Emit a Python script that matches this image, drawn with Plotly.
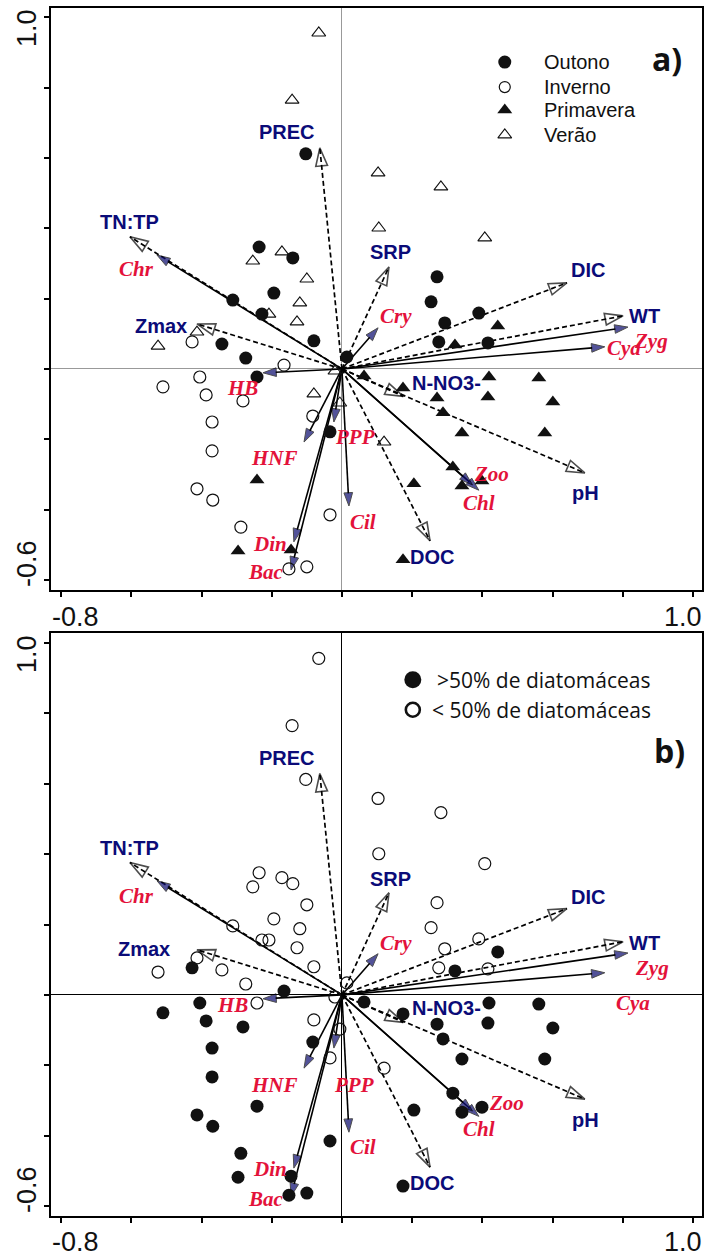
import plotly.graph_objects as go

# ---------------- data (site scores) ----------------
outono_x = [-0.103, -0.236, -0.140, -0.194, -0.311, -0.228, -0.080, -0.342, -0.274, 0.014,
            -0.242, -0.034, 0.271, 0.254, 0.293, 0.390, 0.276, 0.416]
outono_y = [0.612, 0.347, 0.316, 0.216, 0.196, 0.156, 0.080, 0.071, 0.031, 0.034,
            -0.023, -0.179, 0.262, 0.191, 0.131, 0.159, 0.077, 0.074]

inverno_x = [-0.427, -0.165, -0.405, -0.510, -0.387, -0.282, -0.370, -0.083, -0.370, -0.413,
             -0.368, -0.034, -0.288, -0.151, -0.100]
inverno_y = [0.077, 0.011, -0.023, -0.051, -0.074, -0.091, -0.151, -0.134, -0.233, -0.341,
             -0.373, -0.415, -0.450, -0.569, -0.563]

primavera_x = [-0.242, -0.296, -0.145, 0.444, 0.322, 0.063, 0.419, 0.561, 0.174, 0.271,
               0.416, 0.601, 0.288, 0.342, 0.578, 0.316, 0.342, 0.399, 0.205, 0.174]
primavera_y = [-0.316, -0.518, -0.515, 0.122, 0.068, -0.020, -0.023, -0.026, -0.054, -0.083,
               -0.080, -0.094, -0.125, -0.182, -0.182, -0.279, -0.333, -0.319, -0.327, -0.543]

verao_x = [-0.066, -0.142, -0.254, -0.171, -0.100, -0.120, -0.208, -0.128, -0.413, -0.524,
           -0.020, -0.080, -0.006, 0.103, 0.282, 0.105, 0.407, 0.120]
verao_y = [0.956, 0.765, 0.307, 0.333, 0.256, 0.188, 0.156, 0.134, 0.105, 0.065,
           -0.006, -0.071, -0.097, 0.558, 0.518, 0.401, 0.373, -0.208]

# diatom dominance per site (1 = >50%, 0 = <50%), same order: Outono, Inverno, Primavera, Verão
outono_diat = [0, 0, 0, 0, 0, 0, 0, 0, 0, 0, 0, 0, 0, 0, 0, 0, 0, 0]
inverno_diat = [1, 1, 1, 1, 1, 1, 1, 1, 1, 1, 1, 1, 1, 1, 1]
primavera_diat = [1, 1, 1, 1, 1, 1, 1, 1, 1, 1, 1, 1, 1, 1, 1, 1, 1, 1, 1, 1]
verao_diat = [0, 0, 0, 0, 0, 0, 0, 0, 0, 0, 0, 0, 0, 0, 0, 0, 0, 0]

# environmental vectors (dashed)
env_names = ["PREC", "TN:TP", "SRP", "DIC", "WT", "Zmax", "N-NO3-", "pH", "DOC"]
env_x = [-0.063, -0.604, 0.134, 0.641, 0.801, -0.413, 0.175, 0.692, 0.251]
env_y = [0.629, 0.376, 0.290, 0.245, 0.151, 0.128, -0.078, -0.296, -0.489]

# biological vectors (solid)
bio_names = ["Chr", "Cry", "Zyg", "Cya", "HB", "HNF", "PPP", "Din", "Bac", "Cil", "Chl", "Zoo"]
bio_x = [-0.527, 0.103, 0.815, 0.749, -0.225, -0.108, -0.023, -0.137, -0.145, 0.020, 0.390, 0.372]
bio_y = [0.324, 0.117, 0.119, 0.063, -0.011, -0.208, -0.151, -0.492, -0.572, -0.390, -0.345, -0.330]

tick_vals_x = [-0.8, -0.6, -0.4, -0.2, 0.0, 0.2, 0.4, 0.6, 0.8, 1.0]
tick_vals_y = [-0.6, -0.4, -0.2, 0.0, 0.2, 0.4, 0.6, 0.8, 1.0]

# ---------------- label placement (layout) ----------------
env_lab = {
    "a": {"PREC": (-0.157, 0.674), "TN:TP": (-0.604, 0.418), "SRP": (0.137, 0.333),
          "DIC": (0.701, 0.282), "WT": (0.863, 0.151), "Zmax": (-0.516, 0.122),
          "N-NO3-": (0.299, -0.040), "pH": (0.695, -0.353), "DOC": (0.256, -0.535)},
    "b": {"PREC": (-0.157, 0.673), "TN:TP": (-0.604, 0.418), "SRP": (0.137, 0.330),
          "DIC": (0.701, 0.278), "WT": (0.863, 0.148), "Zmax": (-0.564, 0.131),
          "N-NO3-": (0.299, -0.037), "pH": (0.695, -0.355), "DOC": (0.256, -0.534)},
}
bio_lab = {
    "a": {"Chr": (-0.584, 0.285), "Cry": (0.154, 0.151), "Zyg": (0.880, 0.080),
          "Cya": (0.803, 0.060), "HB": (-0.282, -0.054), "HNF": (-0.191, -0.253),
          "PPP": (0.037, -0.193), "Din": (-0.205, -0.498), "Bac": (-0.217, -0.577),
          "Cil": (0.060, -0.435), "Chl": (0.390, -0.381), "Zoo": (0.427, -0.299)},
    "b": {"Chr": (-0.584, 0.281), "Cry": (0.154, 0.148), "Zyg": (0.883, 0.077),
          "Cya": (0.829, -0.023), "HB": (-0.311, -0.028), "HNF": (-0.191, -0.256),
          "PPP": (0.034, -0.256), "Din": (-0.205, -0.494), "Bac": (-0.217, -0.580),
          "Cil": (0.060, -0.432), "Chl": (0.390, -0.381), "Zoo": (0.470, -0.307)},
}

W, H = 704, 1256
NAVY = "#0b0b78"
HEAD = "#0a0a6e"
RED = "#e3123a"
BLK = "#111111"

fig = go.Figure()

panels = [("a", "x", "y"), ("b", "x2", "y2")]

# arrows first
for p, xa, ya in panels:
    for nm, ex, ey in zip(env_names, env_x, env_y):
        fig.add_trace(go.Scatter(
            x=[0, ex], y=[0, ey], mode="lines+markers", xaxis=xa, yaxis=ya,
            line=dict(color="black", width=1.7, dash="5px,3px"),
            marker=dict(symbol="arrow-open", size=[0, 19], angleref="previous",
                        color="black", line=dict(color="black", width=1.6)),
            showlegend=False, hoverinfo="skip"))
    for nm, bx, by in zip(bio_names, bio_x, bio_y):
        fig.add_trace(go.Scatter(
            x=[0, bx], y=[0, by], mode="lines+markers", xaxis=xa, yaxis=ya,
            line=dict(color="black", width=1.6),
            marker=dict(symbol="arrow", size=[0, 14], angleref="previous",
                        color=HEAD, line=dict(color="black", width=1)),
            showlegend=False, hoverinfo="skip"))

# points panel a
season_style = [
    (outono_x, outono_y, "circle", 13, 0),
    (inverno_x, inverno_y, "circle-open", 12, 1.2),
    (primavera_x, primavera_y, "triangle-up", 13, 0),
    (verao_x, verao_y, "triangle-up-open", 12, 1.1),
]
for sx, sy, sym, sz, lw in season_style:
    fig.add_trace(go.Scatter(
        x=sx, y=sy, mode="markers", xaxis="x", yaxis="y",
        marker=dict(symbol=sym, size=sz, color=BLK, line=dict(color=BLK, width=lw)),
        showlegend=False, hoverinfo="skip"))

# points panel b
all_x = outono_x + inverno_x + primavera_x + verao_x
all_y = outono_y + inverno_y + primavera_y + verao_y
all_d = outono_diat + inverno_diat + primavera_diat + verao_diat
hx = [x for x, d in zip(all_x, all_d) if d == 1]
hy = [y for y, d in zip(all_y, all_d) if d == 1]
lx = [x for x, d in zip(all_x, all_d) if d == 0]
ly = [y for y, d in zip(all_y, all_d) if d == 0]
fig.add_trace(go.Scatter(x=lx, y=ly, mode="markers", xaxis="x2", yaxis="y2",
                         marker=dict(symbol="circle-open", size=12, color=BLK,
                                     line=dict(color=BLK, width=1.2)),
                         showlegend=False, hoverinfo="skip"))
fig.add_trace(go.Scatter(x=hx, y=hy, mode="markers", xaxis="x2", yaxis="y2",
                         marker=dict(symbol="circle", size=13, color=BLK,
                                     line=dict(width=0)),
                         showlegend=False, hoverinfo="skip"))

# legend panel a
leg_a = [("circle", 13, 0, 0.873, "Outono"), ("circle-open", 11, 1.2, 0.802, "Inverno"),
         ("triangle-up", 13, 0, 0.737, "Primavera"), ("triangle-up-open", 12, 1.1, 0.666, "Verão")]
ann = []
for sym, sz, lw, yy, txt in leg_a:
    fig.add_trace(go.Scatter(x=[0.464], y=[yy], mode="markers", xaxis="x", yaxis="y",
                             marker=dict(symbol=sym, size=sz, color=BLK,
                                         line=dict(color=BLK, width=lw)),
                             showlegend=False, hoverinfo="skip"))
    ann.append(dict(x=0.570, y=yy, xref="x", yref="y", text=txt, showarrow=False,
                    xanchor="left", yanchor="middle",
                    font=dict(family="Liberation Sans", size=20, color="#111")))

# legend panel b
fig.add_trace(go.Scatter(x=[0.202], y=[0.895], mode="markers", xaxis="x2", yaxis="y2",
                         marker=dict(symbol="circle", size=17, color=BLK, line=dict(width=0)),
                         showlegend=False, hoverinfo="skip"))
fig.add_trace(go.Scatter(x=[0.202], y=[0.810], mode="markers", xaxis="x2", yaxis="y2",
                         marker=dict(symbol="circle-open", size=14, color=BLK,
                                     line=dict(color=BLK, width=2.6)),
                         showlegend=False, hoverinfo="skip"))
ann.append(dict(x=0.265, y=0.895, xref="x2", yref="y2", text=">50% de diatomáceas",
                showarrow=False, xanchor="left", yanchor="middle",
                font=dict(family="Open Sans", size=21, color="#111")))
ann.append(dict(x=0.251, y=0.810, xref="x2", yref="y2", text="< 50% de diatomáceas",
                showarrow=False, xanchor="left", yanchor="middle",
                font=dict(family="Open Sans", size=21, color="#111")))

# vector labels
for p, xa, ya in panels:
    for nm in env_names:
        lx_, ly_ = env_lab[p][nm]
        ann.append(dict(x=lx_, y=ly_, xref=xa, yref=ya, text=nm, showarrow=False,
                        xanchor="center", yanchor="middle",
                        font=dict(family="Liberation Sans", size=20, color=NAVY, weight="bold")))
    for nm in bio_names:
        lx_, ly_ = bio_lab[p][nm]
        ann.append(dict(x=lx_, y=ly_, xref=xa, yref=ya, text=nm, showarrow=False,
                        xanchor="center", yanchor="middle",
                        font=dict(family="Liberation Serif", size=21, color=RED,
                                  weight="bold", style="italic")))

# panel tags
ann.append(dict(x=667 / W, y=1 - 58 / H, xref="paper", yref="paper", text="a)", showarrow=False,
                xanchor="center", yanchor="middle",
                font=dict(family="Open Sans", size=32, color="#111", weight="bold")))
ann.append(dict(x=669 / W, y=1 - 750 / H, xref="paper", yref="paper", text="b)", showarrow=False,
                xanchor="center", yanchor="middle",
                font=dict(family="Open Sans", size=32, color="#111", weight="bold")))

# tick labels (only end values shown)
tfont = dict(family="Liberation Sans", size=27, color="#111")
for (px, py, txt, ang) in [(27, 28, "1.0", -90), (27, 564, "-0.6", -90),
                           (27, 654, "1.0", -90), (27, 1190, "-0.6", -90),
                           (75, 617, "-0.8", 0), (683, 617, "1.0", 0),
                           (75, 1242, "-0.8", 0), (683, 1242, "1.0", 0)]:
    ann.append(dict(x=px / W, y=1 - py / H, xref="paper", yref="paper", text=txt,
                    showarrow=False, xanchor="center", yanchor="middle", textangle=ang,
                    font=tfont))

xdom = [51 / W, 702 / W]
common_x = dict(domain=xdom, range=[-0.829, 1.026], tickvals=tick_vals_x, ticks="outside",
                ticklen=5, tickwidth=1.5, tickcolor="black", showticklabels=False,
                showline=True, linewidth=2, linecolor="black", mirror=True,
                showgrid=False, zeroline=True, zerolinewidth=1)
common_y = dict(tickvals=tick_vals_y, ticks="outside", ticklen=5, tickwidth=1.5,
                tickcolor="black", showticklabels=False, showline=True, linewidth=2,
                linecolor="black", mirror=True, showgrid=False, zeroline=True, zerolinewidth=1)

fig.update_layout(
    width=W, height=H, margin=dict(l=0, r=0, t=0, b=0),
    paper_bgcolor="white", plot_bgcolor="white", showlegend=False,
    xaxis=dict(**common_x, anchor="y", zerolinecolor="#999999"),
    yaxis=dict(**common_y, anchor="x", domain=[1 - 590 / H, 1 - 8 / H],
               range=[-0.629, 1.027], zerolinecolor="#999999"),
    xaxis2=dict(**common_x, anchor="y2", zerolinecolor="black"),
    yaxis2=dict(**common_y, anchor="x2", domain=[1 - 1216 / H, 1 - 633 / H],
                range=[-0.628, 1.028], zerolinecolor="black"),
    annotations=ann,
)

fig.write_html("out.html")
